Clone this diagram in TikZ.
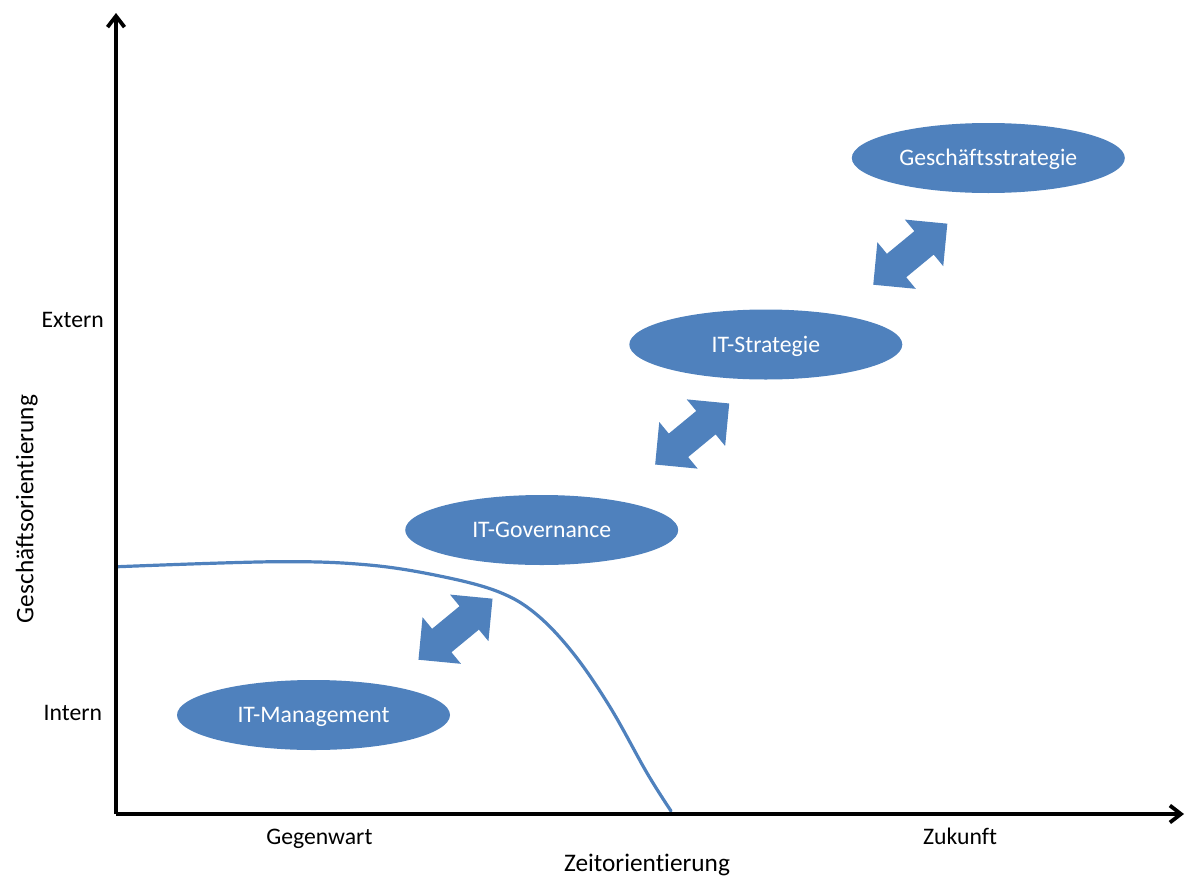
\documentclass[tikz,border=0pt]{standalone}
\usepackage{fontspec}
\setmainfont{Carlito}[Ligatures={NoCommon}]
\usetikzlibrary{arrows.meta,shapes.geometric,shapes.arrows}
\definecolor{accent}{HTML}{4F81BD}
\begin{document}
\begin{tikzpicture}[x=1pt,y=1pt,
  axis/.style={line width=3.8pt,-{Straight Barb[length=11pt,width=17pt]}},
  oval/.style={ellipse,fill=accent,draw=none,minimum width=273pt,minimum height=70pt,
    inner sep=0pt,text=white,font=\fontsize{23.7}{28}\selectfont,text height=15pt,text depth=0pt},
  dbl/.style={double arrow,fill=accent,draw=none,minimum height=96pt,inner xsep=0pt,
    inner ysep=15pt,double arrow head extend=15pt,rotate=39.5},
  tick/.style={font=\fontsize{23.7}{28}\selectfont,anchor=base,inner sep=0pt},
  title/.style={font=\fontsize{25.3}{30}\selectfont,anchor=base,inner sep=0pt}]
\useasboundingbox (0,-878) rectangle (1186,0);
\coordinate (O) at (116,-814);
\coordinate (ytop) at (116,-13);
\coordinate (xend) at (1184,-814);
% curve
\draw[accent,line width=3.2pt,line cap=round] plot[smooth,tension=0.6] coordinates
  {(118,-566.7) (276.7,-561.7) (369,-565) (443,-576.7) (499,-592) (536,-614)
   (573,-653) (610,-707) (647,-773) (671,-811)};
% axes
\draw[axis] (O) -- (ytop);
\draw[axis] (O) -- (xend);
% ellipses
\node[oval] (mgmt) at (313.5,-715) {IT-Management};
\node[oval] (gov) at (541.7,-530) {IT-Governance};
\node[oval] (strat) at (765.8,-344.5) {IT-Strategie};
\node[oval] (gs) at (988.3,-158) {Geschäftsstrategie};
% double arrows
\node[dbl] (a1) at (455.5,-629.2) {};
\node[dbl] (a2) at (692.2,-434) {};
\node[dbl] (a3) at (910.3,-254.2) {};
% axis labels
\node[tick] (ext) at (72.7,-327.5) {Extern};
\node[tick] (int) at (72.9,-720.5) {Intern};
\node[tick] (geg) at (319.4,-844.5) {Gegenwart};
\node[tick] (zuk) at (960,-844.5) {Zukunft};
\node[title] (zeit) at (647,-871) {Zeitorientierung};
\node[title,rotate=90] (gso) at (33.3,-509) {Geschäftsorientierung};
\end{tikzpicture}
\end{document}
